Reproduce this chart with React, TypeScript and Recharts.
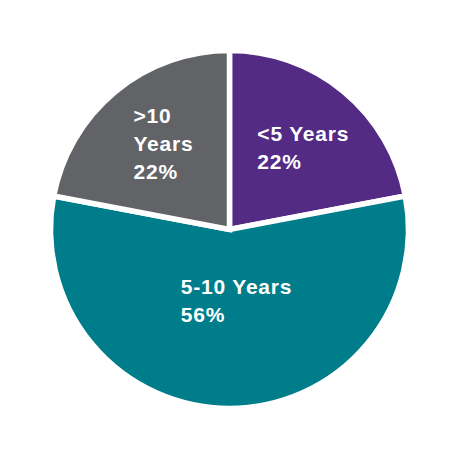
import React from 'react'
import { Pie, PieChart, Cell } from 'recharts'

const categories = ['<5 Years', '5-10 Years', '>10 Years']
const shares = [22, 56, 22]
const labelLines = [['<5 Years'], ['5-10 Years'], ['>10', 'Years']]
const colors = ['#532A84', '#007D8A', '#626366']

const data = categories.map((name, i) => ({ name, value: shares[i] }))

// label placement per slice: distance from centre and a small angle nudge
const labelRadius = [111, 72, 108]
const labelNudge = [-3.5, 9, -1.9]
const RAD = Math.PI / 180

function renderLabel(props: any) {
    const { cx, cy, midAngle, index } = props
    const a = (midAngle + labelNudge[index]) * RAD
    const px = cx + labelRadius[index] * Math.cos(a)
    const py = cy - labelRadius[index] * Math.sin(a)
    const lines = [...labelLines[index], `${shares[index]}%`]
    const longest = Math.max(...lines.map(l => l.length))
    const left = px - (longest * 12) / 2
    const lineH = 28
    const firstBase = py - ((lines.length - 1) * lineH) / 2 + 7
    return (
        <text
            x={left}
            y={firstBase}
            fill='#ffffff'
            fontFamily='"Liberation Sans", Arial, sans-serif'
            fontWeight='bold'
            fontSize={21}
            letterSpacing={0.8}
            textAnchor='start'
        >
            {lines.map((l, i) => (
                <tspan key={i} x={left} y={firstBase + i * lineH}>{l}</tspan>
            ))}
        </text>
    )
}

function App() {
    return (
        <div style={{ position: 'absolute', left: 0, top: 0, background: '#fff' }}>
            <PieChart width={460} height={460} margin={{ top: 0, right: 0, bottom: 0, left: 0 }}>
                <Pie
                    data={data}
                    dataKey='value'
                    nameKey='name'
                    cx={229.5}
                    cy={229.5}
                    outerRadius={179}
                    startAngle={90}
                    endAngle={-270}
                    stroke='#ffffff'
                    strokeWidth={5.5}
                    label={renderLabel}
                    labelLine={false}
                    isAnimationActive={false}
                >
                    {data.map((d, i) => (
                        <Cell key={d.name} fill={colors[i]} />
                    ))}
                </Pie>
            </PieChart>
        </div>
    )
}

export default App
